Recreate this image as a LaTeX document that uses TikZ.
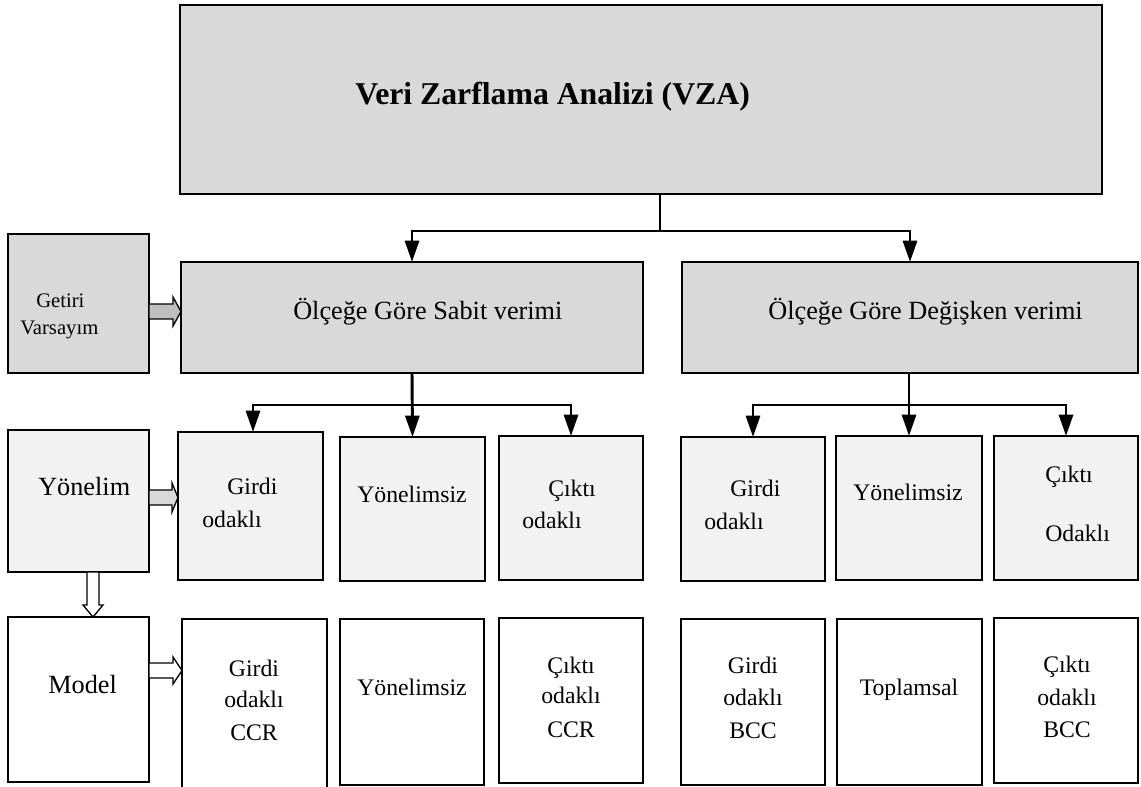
\documentclass[tikz,border=0pt]{standalone}
\usepackage{fontspec}
\setmainfont{Liberation Serif}
\usetikzlibrary{arrows.meta,calc}
\begin{document}
\begin{tikzpicture}[x=0.75pt,y=-0.75pt,
  box/.style={draw=black,line width=1.5pt,inner sep=0pt,outer sep=0pt},
  gbox/.style={box,fill=gray!30},
  lbox/.style={box,fill=gray!10},
  wbox/.style={box,fill=white},
  conn/.style={draw=black,line width=2.2pt,-{Triangle[width=10.5pt,length=16pt]}},
  blk/.style={draw=black,line width=1pt,line join=miter},
  tbig/.style={inner sep=0pt,font=\fontsize{19.7}{23}\selectfont},
  tmid/.style={inner sep=0pt,font=\fontsize{17.8}{21}\selectfont},
  tsml/.style={inner sep=0pt,font=\fontsize{15.5}{18}\selectfont}]
\useasboundingbox (0,0) rectangle (1141,787);
% boxes
\node[gbox,minimum width=922*0.75pt,minimum height=189*0.75pt] (top) at (641,99.5) {};
\node[gbox,minimum width=141*0.75pt,minimum height=139*0.75pt] (getiri) at (78.5,303.5) {};
\node[gbox,minimum width=462*0.75pt,minimum height=111*0.75pt] (sabit) at (412,317.5) {};
\node[gbox,minimum width=456*0.75pt,minimum height=111*0.75pt] (degisken) at (910,317.5) {};
\node[lbox,minimum width=141*0.75pt,minimum height=142*0.75pt] (yonelim) at (78.5,501) {};
\node[wbox,minimum width=141*0.75pt,minimum height=165*0.75pt] (model) at (78.5,699.5) {};
\node[lbox,minimum width=145*0.75pt,minimum height=148*0.75pt] (girdiU) at (250.5,506) {};
\node[lbox,minimum width=145*0.75pt,minimum height=144*0.75pt] (yonU) at (412.5,509) {};
\node[lbox,minimum width=144*0.75pt,minimum height=144*0.75pt] (ciktiU) at (571,508) {};
\node[lbox,minimum width=144*0.75pt,minimum height=144*0.75pt] (girdiUb) at (753,509) {};
\node[lbox,minimum width=146*0.75pt,minimum height=144*0.75pt] (yonUb) at (909,508) {};
\node[lbox,minimum width=144*0.75pt,minimum height=144*0.75pt] (ciktiUb) at (1066,508) {};
\node[wbox,minimum width=145*0.75pt,minimum height=175*0.75pt] (girdiL) at (254.5,706.5) {};
\node[wbox,minimum width=144*0.75pt,minimum height=166*0.75pt] (yonL) at (412,702) {};
\node[wbox,minimum width=144*0.75pt,minimum height=165*0.75pt] (ciktiL) at (571,700.5) {};
\node[wbox,minimum width=144*0.75pt,minimum height=166*0.75pt] (girdiLb) at (753,702) {};
\node[wbox,minimum width=145*0.75pt,minimum height=166*0.75pt] (topL) at (909.5,702) {};
\node[wbox,minimum width=144*0.75pt,minimum height=165*0.75pt] (ciktiLb) at (1066,700.5) {};
% texts
\node[inner sep=0pt,anchor=base west,font=\fontsize{23.8}{28}\selectfont\bfseries] (ttitle) at (355,105) {Veri Zarflama Analizi (VZA)};
\node[tsml,anchor=base west] (tget1) at (36,308) {Getiri};
\node[tsml,anchor=base west] (tget2) at (20,335) {Varsayım};
\node[tbig,anchor=base west] (tsab) at (293,320) {Ölçeğe Göre Sabit verimi};
\node[tbig,anchor=base east] (tdeg) at (1083,320) {Ölçeğe Göre Değişken verimi};
\node[tbig,anchor=base west] (tyon) at (38,495) {Yönelim};
\node[tbig,anchor=base west] (tmod) at (48,693) {Model};
\node[tmid,anchor=base west] (tgu1) at (227,494) {Girdi};
\node[tmid,anchor=base west] (tgu2) at (202,527) {odaklı};
\node[tmid,anchor=base west] (tyu) at (357,502) {Yönelimsiz};
\node[tmid,anchor=base west] (tcu1) at (548,496) {Çıktı};
\node[tmid,anchor=base west] (tcu2) at (522,528) {odaklı};
\node[tmid,anchor=base] (tgl1) at (254,676) {Girdi};
\node[tmid,anchor=base] (tgl2) at (254,707) {odaklı};
\node[tmid,anchor=base] (tgl3) at (254,740) {CCR};
\node[tmid,anchor=base] (tyl) at (412,695) {Yönelimsiz};
\node[tmid,anchor=base] (tcl1) at (571,673) {Çıktı};
\node[tmid,anchor=base] (tcl2) at (571,703) {odaklı};
\node[tmid,anchor=base] (tcl3) at (571,737) {CCR};
\node[tmid,anchor=base west] (tgub1) at (730,496) {Girdi};
\node[tmid,anchor=base west] (tgub2) at (704,529) {odaklı};
\node[tmid,anchor=base west] (tyub) at (853,500) {Yönelimsiz};
\node[tmid,anchor=base west] (tcub1) at (1045,482) {Çıktı};
\node[tmid,anchor=base west] (tcub2) at (1045,541) {Odaklı};
\node[tmid,anchor=base] (tglb1) at (753,673) {Girdi};
\node[tmid,anchor=base] (tglb2) at (753,705) {odaklı};
\node[tmid,anchor=base] (tglb3) at (753,738) {BCC};
\node[tmid,anchor=base] (ttop) at (909,695) {Toplamsal};
\node[tmid,anchor=base] (tclb1) at (1067,672) {Çıktı};
\node[tmid,anchor=base] (tclb2) at (1067,705) {odaklı};
\node[tmid,anchor=base] (tclb3) at (1067,737) {BCC};
% connectors
\coordinate (tj) at (top.south -| 660,0);
\coordinate (tm) at (660,231);
\draw[line width=1.5pt] (tj) -- (tm);
\draw[conn] (tm) -| (sabit.north);
\draw[conn] (tm) -| (degisken.north);
\coordinate (sj) at (412,405);
\draw[conn] (sabit.south) -- (yonU.north);
\draw[conn] (sj) -| (girdiU.north -| 253,0);
\draw[conn] (sj) -| (ciktiU.north);
\coordinate (dj) at (909,405);
\draw[conn] (degisken.south -| 909,0) -- (yonUb.north);
\draw[conn] (dj) -| (girdiUb.north);
\draw[conn] (dj) -| (ciktiUb.north);
% block arrows
\draw[blk,fill=gray!50] (getiri.east |- 0,304) -- (173,304) -- (173,297) -- (sabit.west |- 0,311.5) -- (173,326) -- (173,319) -- (getiri.east |- 0,319) -- cycle;
\draw[blk,fill=gray!30] (yonelim.east |- 0,490) -- (172,490) -- (172,483) -- (girdiU.west |- 0,497.5) -- (172,512) -- (172,505) -- (yonelim.east |- 0,505) -- cycle;
\draw[blk,fill=white] (model.east |- 0,663) -- (173,663) -- (173,657) -- (girdiL.west |- 0,670.5) -- (173,684) -- (173,678) -- (model.east |- 0,678) -- cycle;
\draw[blk,fill=white] (87,0 |- yonelim.south) -- (87,605) -- (83,605) -- (93,0 |- model.north) -- (103,605) -- (99,605) -- (99,0 |- yonelim.south) -- cycle;
\end{tikzpicture}
\end{document}
